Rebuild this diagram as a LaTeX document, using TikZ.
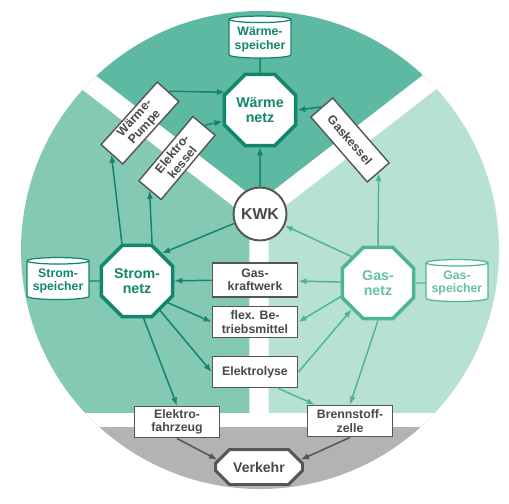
\documentclass[tikz,border=0pt]{standalone}
\usepackage{fontspec}
\setmainfont{Liberation Sans}
\usepackage{tikz}
\usetikzlibrary{arrows.meta, positioning, calc, shapes.geometric, shapes.misc}
\definecolor{dunkelgruen}{HTML}{12866A}
\definecolor{hellgruen}{HTML}{4DB594}
\definecolor{waermefeld}{HTML}{5DB9A1}
\definecolor{stromfeld}{HTML}{84C9B4}
\definecolor{gasfeld}{HTML}{B8E1D6}
\definecolor{verkehrfeld}{HTML}{B3B3B3}
\definecolor{rahmen}{HTML}{555555}
\tikzset{
    netz/.style = {regular polygon, regular polygon sides=8, minimum size=1.54cm,
        inner sep=0pt, fill=white, line width=2pt, align=center,
        font=\bfseries\fontsize{8.1}{8.6}\selectfont},
    strom_netz/.style = {netz, draw=dunkelgruen, text=dunkelgruen},
    gas_netz/.style = {netz, draw=hellgruen, text=hellgruen!85!white},
    speicher/.style = {cylinder, shape border rotate=90, aspect=0.12, minimum width=1.24cm,
        minimum height=0.84cm, inner sep=1pt, fill=white, line width=0.7pt, align=center,
        font=\bfseries\fontsize{7}{7.6}\selectfont},
    anlage/.style = {rectangle, draw=rahmen, fill=white, line width=1.1pt, minimum width=1.7cm,
        minimum height=0.62cm, inner sep=1pt, align=center, text=rahmen!85!black,
        font=\bfseries\fontsize{7}{7.6}\selectfont},
    kessel/.style = {anlage, line width=0.8pt, minimum width=1.68cm, minimum height=0.58cm},
    dunkel/.style = {draw=dunkelgruen, line width=0.85pt},
    hell/.style = {draw=hellgruen, line width=0.85pt},
    grau/.style = {draw=rahmen, line width=0.85pt},
}

\begin{document}
\begin{tikzpicture}[x=0.02cm, y=-0.02cm, >={Latex[length=4.6pt, width=3.6pt]}]
    \useasboundingbox (0,0) rectangle (509,503);
    \begin{scope}
        \clip (260,250) circle [radius=239];
        \fill[waermefeld] (259,214) -- (-85,-52) -- (603,-52) -- cycle;
        \fill[stromfeld] (259,214) -- (-85,-52) -- (-85,420) -- (259,420) -- cycle;
        \fill[gasfeld] (259,214) -- (603,-52) -- (603,420) -- (259,420) -- cycle;
        \fill[verkehrfeld] (-10,420) rectangle (530,520);
        \draw[white, line width=11pt] (259,214) -- (-85,-52) (259,214) -- (603,-52)
            (259,214) -- (259,420);
        \draw[white, line width=7.9pt] (-10,420) -- (530,420);
    \end{scope}

    \node (WN) [strom_netz] at (260,110) {Wärme\\netz};
    \node (SN) [strom_netz] at (137,281) {Strom-\\netz};
    \node (GN) [gas_netz] at (378,283) {Gas-\\netz};
    \node (WS) [speicher, draw=dunkelgruen, text=dunkelgruen, above=0.28cm of WN] {Wärme-\\speicher};
    \node (SS) [speicher, draw=dunkelgruen, text=dunkelgruen, left=0.2cm of SN] {Strom-\\speicher};
    \node (GS) [speicher, draw=hellgruen, text=hellgruen!85!white, right=0.2cm of GN] {Gas-\\speicher};
    \node (KWK) [circle, draw=rahmen, fill=white, line width=1.1pt, minimum size=1.06cm,
        inner sep=0pt, text=rahmen!85!black, font=\bfseries\fontsize{9}{9}\selectfont] at (260,214) {KWK};
    \node (WP) [kessel, rotate=48] at (140,123) {Wärme-\\Pumpe};
    \node (EK) [kessel, rotate=50] at (177,158) {Elektro-\\kessel};
    \node (GK) [kessel, rotate=-49, minimum width=1.72cm] at (350,140) {Gaskessel};
    \node (GKW) [anlage, minimum height=0.68cm] at (255,280) {Gas-\\kraftwerk};
    \node (FB) [anlage] at (255,322) {flex. Be-\\triebsmittel};
    \node (EL) [anlage] at (255,372) {Elektrolyse};
    \node (EF) [anlage] at (177,422) {Elektro-\\fahrzeug};
    \node (BZ) [anlage] at (350,421) {Brennstoff-\\zelle};
    \node (VK) [chamfered rectangle, chamfered rectangle xsep=4pt, chamfered rectangle ysep=4pt,
        draw=rahmen, fill=white, line width=1.7pt, minimum width=1.74cm, minimum height=0.7cm,
        inner sep=1pt, text=rahmen!85!black, font=\bfseries\fontsize{8}{8}\selectfont] at (259,467) {Verkehr};

    \draw[dunkel] (WS) -- (WN);
    \draw[dunkel] (SS) -- (SN);
    \draw[hell] (GS) -- (GN);
    \draw[->, dunkel] (WP.east) -- (WN.153);
    \draw[->, dunkel] (EK.east) -- (WN.197);
    \draw[->, dunkel] (GK.west) -- (WN.east);
    \draw[->, dunkel] (KWK) -- (WN);
    \draw[->, dunkel] (SN.112) -- (WP.west);
    \draw[->, dunkel] (SN.68) -- (EK.west);
    \draw[->, dunkel] (KWK.200) -- (SN.48);
    \draw[->, hell] (GN.135) -- (KWK.-25);
    \draw[->, hell] (GN.north) -- (GK.east);
    \draw[->, dunkel] (GKW) -- (SN);
    \draw[->, hell] (GN) -- (GKW);
    \draw[->, dunkel] (SN.-35) -- (FB.west);
    \draw[->, hell] (GN.200) -- (FB.east);
    \draw[->, dunkel] (SN.-52) -- (EL.west);
    \draw[->, hell] (EL.east) -- (GN.225);
    \draw[->, hell] (EL.-35) -- (BZ.155);
    \draw[->, hell] (GN.south) -- (BZ.north);
    \draw[->, dunkel] (SN.-80) -- (EF.north);
    \draw[->, grau] (EF.south) -- (VK.170);
    \draw[->, grau] (BZ.south) -- (VK.10);
\end{tikzpicture}
\end{document}
